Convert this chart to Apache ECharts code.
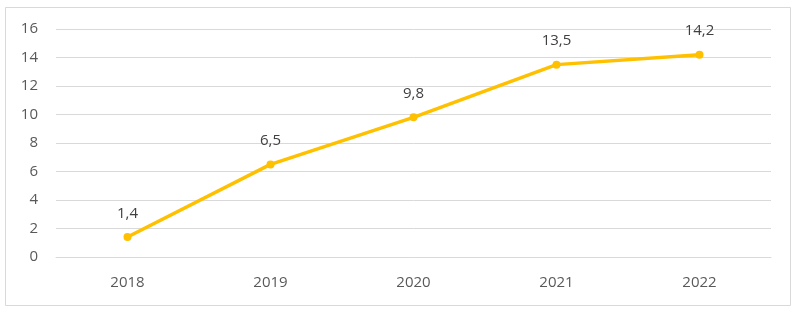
<!DOCTYPE html>
<html>
<head>
<meta charset="utf-8">
<script src="https://cdn.jsdelivr.net/npm/echarts@6/dist/echarts.min.js"></script>
<style>
  html, body { margin: 0; padding: 0; background: #fff; }
  #chart { width: 797px; height: 312px; }
</style>
</head>
<body>
<div id="chart"></div>
<script>
var years = ['2018', '2019', '2020', '2021', '2022'];
var values = [1.4, 6.5, 9.8, 13.5, 14.2];

var chart = echarts.init(document.getElementById('chart'));

var option = {
    backgroundColor: '#fff',
    animation: false,
    graphic: [{
        type: 'rect',
        shape: { x: 5.5, y: 7.5, width: 785, height: 298 },
        style: { fill: 'none', stroke: '#d9d9d9', lineWidth: 1 },
        silent: true
    }],
    grid: {
        left: 56,
        right: 26,
        top: 29,
        bottom: 55
    },
    xAxis: {
        type: 'category',
        data: years,
        boundaryGap: true,
        axisLine: { show: true, lineStyle: { color: '#d9d9d9' } },
        axisTick: { show: false },
        axisLabel: {
            color: '#595959',
            fontFamily: 'Open Sans',
            fontSize: 15,
            margin: 18
        }
    },
    yAxis: {
        type: 'value',
        min: 0,
        max: 16,
        interval: 2,
        axisLine: { show: false },
        axisTick: { show: false },
        splitLine: { lineStyle: { color: '#d9d9d9', width: 1 } },
        axisLabel: {
            color: '#595959',
            fontFamily: 'Open Sans',
            fontSize: 15,
            margin: 18
        }
    },
    series: [{
        type: 'line',
        data: values,
        symbol: 'circle',
        symbolSize: 8,
        lineStyle: { color: '#FFC000', width: 3.5 },
        itemStyle: { color: '#FFC000' },
        label: {
            show: true,
            position: 'top',
            distance: 12,
            color: '#404040',
            fontFamily: 'Open Sans',
            fontSize: 15,
            formatter: function (p) {
                return String(p.value).replace('.', ',');
            }
        }
    }]
};

chart.setOption(option);
</script>
</body>
</html>
